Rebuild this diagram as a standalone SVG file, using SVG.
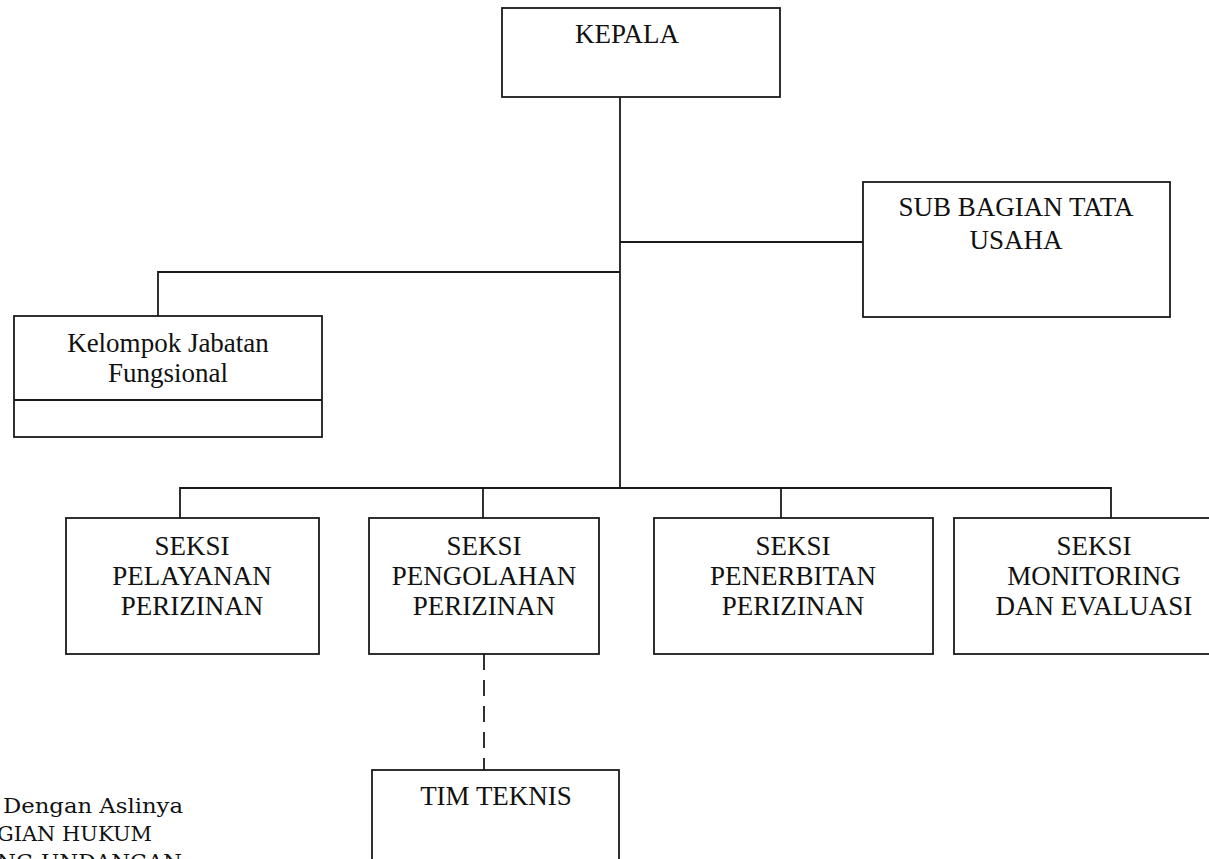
<svg xmlns="http://www.w3.org/2000/svg" width="1209" height="859" viewBox="0 0 1209 859">
<style>
.box{fill:#fff;stroke:#1a1a1a;stroke-width:1.8}
.ln{fill:none;stroke:#1a1a1a;stroke-width:1.8}
.dash{fill:none;stroke:#1a1a1a;stroke-width:1.8;stroke-dasharray:16 10}
.t{font-family:"Liberation Serif","Times New Roman",serif;font-size:27px;fill:#111;text-anchor:middle}
.n{font-family:"DejaVu Serif","Liberation Serif",serif;font-size:20px;fill:#111}
</style>
<rect width="1209" height="859" fill="#fff"/>
<g id="connectors">
<path class="ln" d="M620 97V488"/>
<path class="ln" d="M620 242H863"/>
<path class="ln" d="M620 272H158V316"/>
<path class="ln" d="M180 518V488H1111V518"/>
<path class="ln" d="M483 488V518"/>
<path class="ln" d="M781 488V518"/>
<path class="dash" d="M484 654V770"/>
</g>
<g id="kepala">
<rect class="box" x="502" y="8" width="278" height="89"/>
<text class="t" x="627" y="43">KEPALA</text>
</g>
<g id="sub-bagian">
<rect class="box" x="863" y="182" width="307" height="135"/>
<text class="t" x="1016" y="216">SUB BAGIAN TATA</text>
<text class="t" x="1016" y="249">USAHA</text>
</g>
<g id="kelompok">
<rect class="box" x="14" y="316" width="308" height="121"/>
<path class="ln" d="M14 400H322"/>
<text class="t" x="168" y="352">Kelompok Jabatan</text>
<text class="t" x="168" y="382">Fungsional</text>
</g>
<g id="seksi-pelayanan">
<rect class="box" x="66" y="518" width="253" height="136"/>
<text class="t" x="192" y="555">SEKSI</text>
<text class="t" x="192" y="585">PELAYANAN</text>
<text class="t" x="192" y="615">PERIZINAN</text>
</g>
<g id="seksi-pengolahan">
<rect class="box" x="369" y="518" width="230" height="136"/>
<text class="t" x="484" y="555">SEKSI</text>
<text class="t" x="484" y="585">PENGOLAHAN</text>
<text class="t" x="484" y="615">PERIZINAN</text>
</g>
<g id="seksi-penerbitan">
<rect class="box" x="654" y="518" width="279" height="136"/>
<text class="t" x="793" y="555">SEKSI</text>
<text class="t" x="793" y="585">PENERBITAN</text>
<text class="t" x="793" y="615">PERIZINAN</text>
</g>
<g id="seksi-monitoring">
<rect class="box" x="954" y="518" width="280" height="136"/>
<text class="t" x="1094" y="555">SEKSI</text>
<text class="t" x="1094" y="585">MONITORING</text>
<text class="t" x="1094" y="615">DAN EVALUASI</text>
</g>
<g id="tim-teknis">
<rect class="box" x="372" y="770" width="247" height="120"/>
<text class="t" x="496" y="805">TIM TEKNIS</text>
</g>
<g id="stamp">
<text class="n" x="3" y="813" textLength="180" lengthAdjust="spacingAndGlyphs">Dengan Aslinya</text>
<text class="n" x="-3" y="841" textLength="155" lengthAdjust="spacingAndGlyphs">GIAN HUKUM</text>
<text class="n" x="-3" y="869" textLength="185" lengthAdjust="spacingAndGlyphs">NG-UNDANGAN</text>
</g>
</svg>
